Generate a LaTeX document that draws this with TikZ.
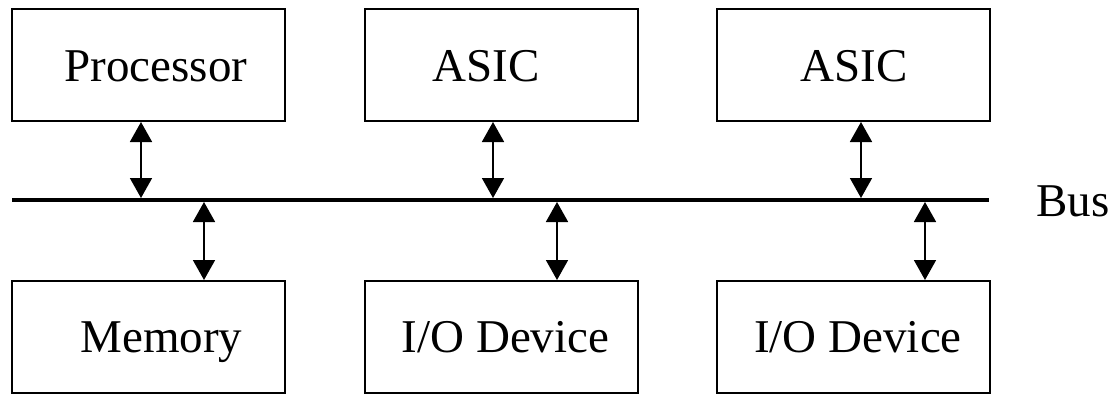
\documentclass[tikz,border=0pt]{standalone}
\usepackage{fontspec}
\setmainfont{Liberation Serif}
\usetikzlibrary{arrows.meta}
\begin{document}
\begin{tikzpicture}[x=1pt,y=-1pt,
  unit/.style={draw=black, line width=2pt, rectangle, minimum width=273pt,
    minimum height=112pt, inner sep=0pt},
  lbl/.style={anchor=base, inner sep=0pt, font=\fontsize{47}{56}\selectfont},
  busline/.style={line width=3.6pt},
  link/.style={line width=1.7pt,
    {Triangle[width=22pt,length=20pt]}-{Triangle[width=22pt,length=20pt]}}]
  \useasboundingbox (0,0) rectangle (1112,394);

  % units above the bus
  \node[unit] (proc)  at (148.5,65) {};
  \node[unit] (asic1) at (501,65) {};
  \node[unit] (asic2) at (853,65) {};
  % units below the bus
  \node[unit] (mem)   at (148.5,337) {};
  \node[unit] (io1)   at (501,337) {};
  \node[unit] (io2)   at (853,337) {};

  % labels
  \node[lbl] (proc-t)  at (156,81) {Processor};
  \node[lbl] (asic1-t) at (486,81) {ASIC};
  \node[lbl] (asic2-t) at (854,81) {ASIC};
  \node[lbl] (mem-t)   at (161.5,352.5) {Memory};
  \node[lbl] (io1-t)   at (505.5,352.5) {I/O Device};
  \node[lbl] (io2-t)   at (858,352.5) {I/O Device};
  \node[lbl] (bus-t)   at (1073,216) {Bus};

  % the bus
  \coordinate (busL) at (12,200);
  \coordinate (busR) at (989,200);
  \draw[busline] (busL) -- (busR);

  % taps on the bus
  \coordinate (t1) at (141,198);
  \coordinate (t2) at (493,198);
  \coordinate (t3) at (861,198);
  \coordinate (b1) at (204,202);
  \coordinate (b2) at (557,202);
  \coordinate (b3) at (925,202);

  % bidirectional links
  \draw[link] (t1 |- proc.south)  -- (t1);
  \draw[link] (t2 |- asic1.south) -- (t2);
  \draw[link] (t3 |- asic2.south) -- (t3);
  \draw[link] (b1) -- (b1 |- mem.north);
  \draw[link] (b2) -- (b2 |- io1.north);
  \draw[link] (b3) -- (b3 |- io2.north);
\end{tikzpicture}
\end{document}
